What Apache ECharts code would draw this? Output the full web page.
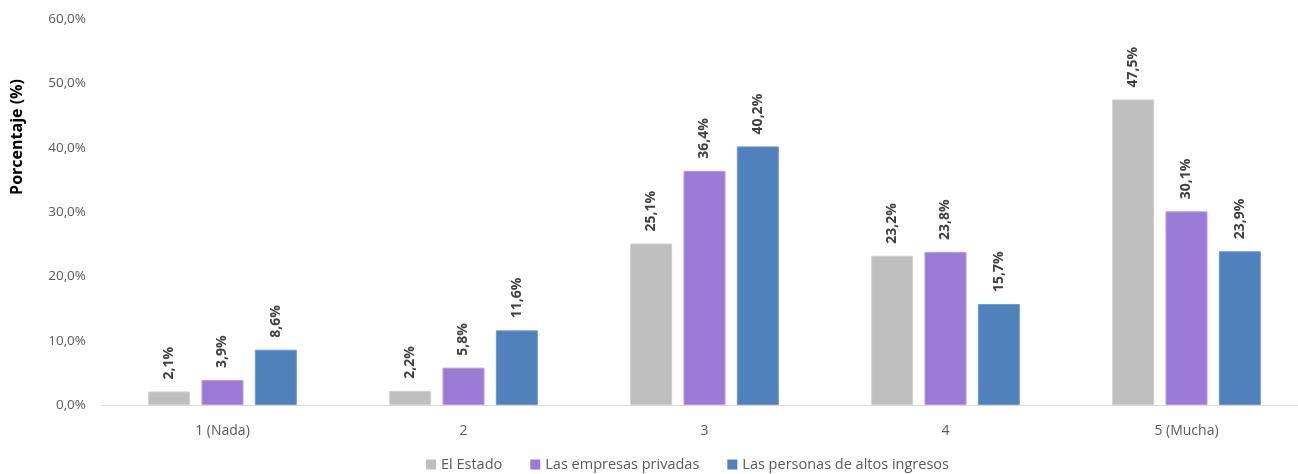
<!DOCTYPE html>
<html>
<head>
<meta charset="utf-8">
<script src="https://cdn.jsdelivr.net/npm/echarts@6/dist/echarts.min.js"></script>
<style>
  html, body { margin: 0; padding: 0; background: #fff; overflow: hidden; }
  #chart { width: 1310px; height: 474px; }
</style>
</head>
<body>
<div id="chart"></div>
<script>
// datos
const categories = ['1 (Nada)', '2', '3', '4', '5 (Mucha)']
const estado = [2.1, 2.2, 25.1, 23.2, 47.5]
const empresas = [3.9, 5.8, 36.4, 23.8, 30.1]
const personas = [8.6, 11.6, 40.2, 15.7, 23.9]
const seriesNames = ['El Estado', 'Las empresas privadas', 'Las personas de altos ingresos']
const yTicks = [0, 10, 20, 30, 40, 50, 60]

const font = '"Open Sans", "Noto Sans", sans-serif'
const pct = v => v.toFixed(1).replace('.', ',') + '%'

const barLabel = {
  show: true,
  position: 'top',
  rotate: 90,
  align: 'left',
  verticalAlign: 'middle',
  distance: 12,
  color: '#404040',
  fontWeight: 'bold',
  fontSize: 14,
  fontFamily: font,
  formatter: p => pct(p.value)
}

const makeSeries = (name, data, color, border) => ({
  name: name,
  type: 'bar',
  data: data,
  barWidth: 42,
  barGap: '27%',
  itemStyle: { color: color, borderColor: border, borderWidth: 1 },
  label: barLabel,
  animation: false
})

// el div es un poco mas ancho que la ventana: el eje se corta en el borde derecho
const chart = echarts.init(document.getElementById('chart'))
chart.setOption({
  backgroundColor: '#fff',
  textStyle: { fontFamily: font },
  grid: {
    left: 102,
    top: 19,
    right: 3,
    bottom: 69
  },
  legend: {
    bottom: -3,
    left: 421,
    itemWidth: 10,
    itemHeight: 10,
    itemGap: 28,
    itemStyle: { borderWidth: 0 },
    icon: 'rect',
    data: seriesNames,
    textStyle: { color: '#595959', fontSize: 14.5, fontFamily: font }
  },
  xAxis: {
    type: 'category',
    data: categories,
    axisLine: { lineStyle: { color: '#d9d9d9', width: 1 } },
    axisTick: { show: false },
    axisLabel: { color: '#595959', fontSize: 14, margin: 19, fontFamily: font }
  },
  yAxis: {
    type: 'value',
    min: yTicks[0],
    max: yTicks[yTicks.length - 1],
    interval: 10,
    name: 'Porcentaje (%)',
    nameLocation: 'middle',
    nameGap: 77,
    nameTextStyle: { color: '#000', fontWeight: 'bold', fontSize: 16, fontFamily: font, padding: [0, 0, 0, 150] },
    splitLine: { show: false },
    axisLine: { show: false },
    axisTick: { show: false },
    axisLabel: { color: '#595959', fontSize: 13.5, margin: 16, fontFamily: font, formatter: v => pct(v) }
  },
  series: [
    makeSeries(seriesNames[0], estado, '#bfbfbf', '#d0d0d0'),
    makeSeries(seriesNames[1], empresas, '#9b7bd6', '#b39ae0'),
    makeSeries(seriesNames[2], personas, '#4f81bd', '#6f98c9')
  ]
})
</script>
</body>
</html>
